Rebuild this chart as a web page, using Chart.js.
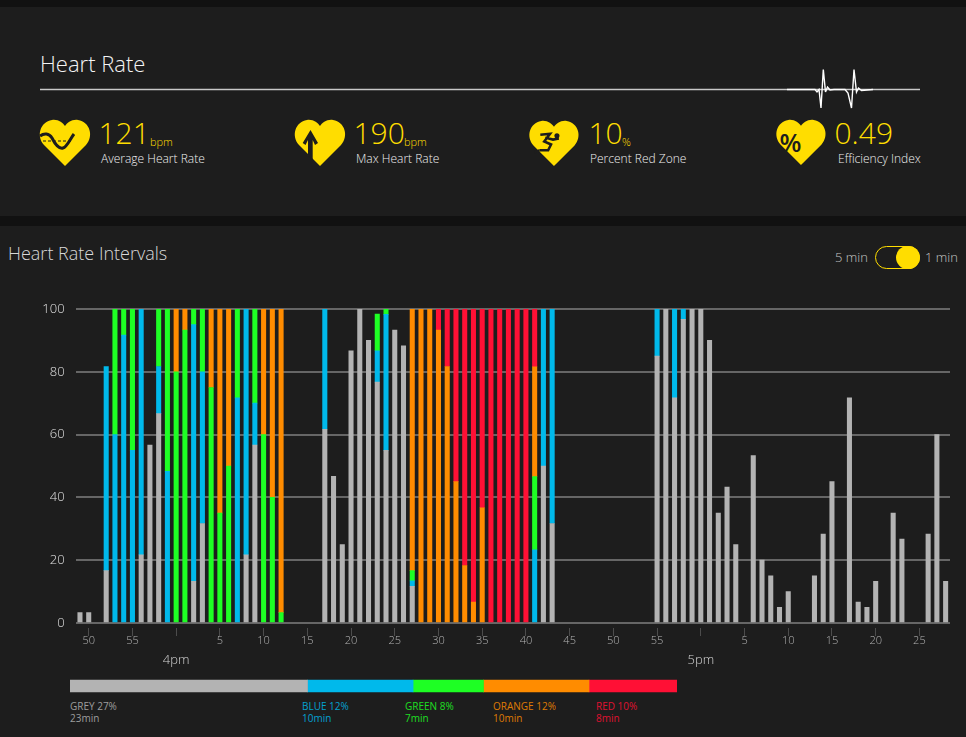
<!DOCTYPE html>
<html>
<head>
<meta charset="utf-8">
<title>Heart Rate</title>
<script src="https://cdn.jsdelivr.net/npm/chart.js@4"></script>
<style>
  html, body { margin: 0; padding: 0; background: #111; }
  body { width: 966px; height: 737px; position: relative; overflow: hidden; font-family: "Open Sans", sans-serif; font-weight: 300; }
  .panel { position: absolute; left: 0; width: 966px; background: #1d1d1d; }
  .t { position: absolute; white-space: nowrap; line-height: 1; }
  .big { color: #ffdd00; font-size: 30px; }
  .unit { color: #ffdd00; font-size: 11px; }
  .lbl { color: #f0f0f0; font-size: 12px; }
  svg { position: absolute; overflow: visible; }
  canvas { position: absolute; }
</style>
</head>
<body>
<div class="panel" style="top:7px;height:209px"></div>
<div class="panel" style="top:226px;height:511px"></div>

<div class="t" style="left:40px;top:52px;font-size:22px;color:#f4f4f4">Heart Rate</div>
<svg style="left:0;top:0" width="966" height="120">
  <line x1="40" y1="89.5" x2="920" y2="89.5" stroke="#c8c8c8" stroke-width="1.5"/>
  <polyline fill="none" stroke="#fff" stroke-width="1.4" points="787,89.5 815,89.5 817,92 819,89.5 821,108 823.3,69.5 825.5,92 827.5,87 830,90 834,89.5 845,89.5 848,93 851.5,108 854,69.5 856.5,92 858.5,88 861.5,90.5 873,89.5"/>
</svg>

<svg style="left:40px;top:120px" width="50" height="46" viewBox="0 0 50 46">
  <path id="heart" fill="#ffdd00" d="M25 46 L4 25 C-4 16 0 2 12 0 C18 -1 23 3 25 6 C27 3 32 -1 38 0 C50 2 54 16 46 25 Z"/>
  <path fill="none" stroke="#1d1d1d" stroke-width="3" d="M0 16 C4 13 9 13 12 18 C15 24 19 29 23 28 C27 27 30 19 34 14"/>
  <line x1="3" y1="21" x2="33" y2="21" stroke="#1d1d1d" stroke-width="1" stroke-dasharray="3 2"/>
</svg>
<div class="t big" style="left:98.5px;top:118px">121</div>
<div class="t unit" style="left:150px;top:136px">bpm</div>
<div class="t lbl" style="left:101px;top:153px">Average Heart Rate</div>

<svg style="left:295px;top:120px" width="50" height="46" viewBox="0 0 50 46">
  <use href="#heart"/>
  <path fill="#1d1d1d" d="M7.7 23 L15.5 10 L23 23 L20 25 L17.7 20 L17.7 40 L13 36 L13 20 L10.5 25 Z"/>
</svg>
<div class="t big" style="left:353.5px;top:118px">190</div>
<div class="t unit" style="left:404px;top:136px">bpm</div>
<div class="t lbl" style="left:356px;top:153px">Max Heart Rate</div>

<svg style="left:529px;top:121px" width="50" height="45" viewBox="0 0 50 46">
  <use href="#heart"/>
  <circle cx="28" cy="15" r="2.6" fill="#1d1d1d"/>
  <path fill="none" stroke="#1d1d1d" stroke-width="2.6" d="M11 14 L21 13 L15 21 L22 24 L19 30 L10 30 M16 17 L24 19 L30 18"/>
  <path fill="none" stroke="#1d1d1d" stroke-width="2.4" d="M10 30 L5 32"/>
</svg>
<div class="t big" style="left:588.5px;top:118px">10</div>
<div class="t unit" style="left:622px;top:136px">%</div>
<div class="t lbl" style="left:590px;top:153px">Percent Red Zone</div>

<svg style="left:776px;top:120px" width="50" height="45" viewBox="0 0 50 46">
  <use href="#heart"/>
  <text x="3" y="33" font-family="Open Sans" font-size="26" font-weight="600" fill="#1d1d1d">%</text>
</svg>
<div class="t big" style="left:834.5px;top:118px">0.49</div>
<div class="t lbl" style="left:838px;top:153px">Efficiency Index</div>

<div class="t" style="left:8px;top:244px;font-size:18px;color:#d8d8d8">Heart Rate Intervals</div>
<div class="t" style="left:835px;top:251px;font-size:13px;color:#c4c4c4">5 min</div>
<div class="t" style="left:925px;top:251px;font-size:13px;color:#c4c4c4">1 min</div>
<div style="position:absolute;left:875px;top:246px;width:43px;height:21px;border:1px solid #ffdd00;border-radius:12px"></div>
<div style="position:absolute;left:896px;top:246px;width:24px;height:23px;background:#ffdd00;border-radius:12px"></div>

<canvas id="intervals" width="966" height="390" style="left:0;top:290px"></canvas>
<canvas id="zones" width="607" height="20" style="left:70px;top:676px"></canvas>
<div id="zoneText"></div>

<script>
// minute of the hour for every bar, 3:49pm through 5:28pm
const minutes = [
  49, 50, 51, 52, 53, 54, 55, 56, 57, 58, 59,
  0, 1, 2, 3, 4, 5, 6, 7, 8, 9, 10, 11, 12, 13, 14, 15, 16, 17, 18, 19,
  20, 21, 22, 23, 24, 25, 26, 27, 28, 29, 30, 31, 32, 33, 34, 35, 36, 37, 38, 39,
  40, 41, 42, 43, 44, 45, 46, 47, 48, 49, 50, 51, 52, 53, 54, 55, 56, 57, 58, 59,
  0, 1, 2, 3, 4, 5, 6, 7, 8, 9, 10, 11, 12, 13, 14, 15, 16, 17, 18, 19,
  20, 21, 22, 23, 24, 25, 26, 27, 28
];
const hourNames = ['4pm', '5pm'];
const yTicks = [0, 20, 40, 60, 80, 100];

// share of each minute spent in each zone
const grey = [
  3.3, 3.3, 0, 16.7, 0, 0, 0, 21.7, 56.7, 66.7,
  0, 0, 0, 13.3, 31.7, 0, 0, 0, 0, 21.7,
  56.7, 0, 0, 0, 0, 0, 0, 0, 61.7, 46.7,
  25, 86.7, 100, 90, 76.7, 55, 93.3, 88.3, 11.7, 0,
  0, 0, 0, 0, 0, 0, 0, 0, 0, 0,
  0, 0, 0, 50, 31.7, 0, 0, 0, 0, 0,
  0, 0, 0, 0, 0, 0, 85, 100, 71.7, 96.7,
  100, 100, 90, 35, 43.3, 25, 0, 53.3, 20, 15,
  5, 10, 0, 0, 15, 28.3, 45, 0, 71.7, 6.7,
  5, 13.3, 0, 35, 26.7, 0, 0, 28.3, 60, 13.3
];
const blue = [
  0, 0, 0, 65, 60, 91.7, 55, 78.3, 0, 15,
  48.3, 0, 0, 81.7, 48.3, 0, 0, 0, 71.7, 78.3,
  13.3, 0, 0, 0, 0, 0, 0, 0, 38.3, 0,
  0, 0, 0, 0, 10, 43.3, 0, 0, 1.7, 0,
  0, 0, 0, 0, 0, 0, 0, 0, 0, 0,
  0, 0, 23.3, 50, 68.3, 0, 0, 0, 0, 0,
  0, 0, 0, 0, 0, 0, 15, 0, 28.3, 3.3,
  0, 0, 0, 0, 0, 0, 0, 0, 0, 0,
  0, 0, 0, 0, 0, 0, 0, 0, 0, 0,
  0, 0, 0, 0, 0, 0, 0, 0, 0, 0
];
const green = [
  0, 0, 0, 0, 40, 8.3, 45, 0, 0, 18.3,
  51.7, 80, 93.3, 5, 20, 75, 35, 50, 28.3, 0,
  30, 60, 40, 3.3, 0, 0, 0, 0, 0, 0,
  0, 0, 0, 0, 11.7, 1.7, 0, 0, 3.3, 0,
  0, 0, 0, 0, 0, 0, 0, 0, 0, 0,
  0, 0, 23.3, 0, 0, 0, 0, 0, 0, 0,
  0, 0, 0, 0, 0, 0, 0, 0, 0, 0,
  0, 0, 0, 0, 0, 0, 0, 0, 0, 0,
  0, 0, 0, 0, 0, 0, 0, 0, 0, 0,
  0, 0, 0, 0, 0, 0, 0, 0, 0, 0
];
const orange = [
  0, 0, 0, 0, 0, 0, 0, 0, 0, 0,
  0, 20, 6.7, 0, 0, 25, 65, 50, 0, 0,
  0, 40, 60, 96.7, 0, 0, 0, 0, 0, 0,
  0, 0, 0, 0, 0, 0, 0, 0, 83.3, 100,
  100, 93.3, 81.7, 45, 18.3, 6.7, 36.7, 0, 0, 0,
  0, 0, 35, 0, 0, 0, 0, 0, 0, 0,
  0, 0, 0, 0, 0, 0, 0, 0, 0, 0,
  0, 0, 0, 0, 0, 0, 0, 0, 0, 0,
  0, 0, 0, 0, 0, 0, 0, 0, 0, 0,
  0, 0, 0, 0, 0, 0, 0, 0, 0, 0
];
const red = [
  0, 0, 0, 0, 0, 0, 0, 0, 0, 0,
  0, 0, 0, 0, 0, 0, 0, 0, 0, 0,
  0, 0, 0, 0, 0, 0, 0, 0, 0, 0,
  0, 0, 0, 0, 0, 0, 0, 0, 0, 0,
  0, 6.7, 18.3, 55, 81.7, 93.3, 63.3, 100, 100, 100,
  100, 100, 18.3, 0, 0, 0, 0, 0, 0, 0,
  0, 0, 0, 0, 0, 0, 0, 0, 0, 0,
  0, 0, 0, 0, 0, 0, 0, 0, 0, 0,
  0, 0, 0, 0, 0, 0, 0, 0, 0, 0,
  0, 0, 0, 0, 0, 0, 0, 0, 0, 0
];

// totals for the strip under the chart
const zoneNames = ['GREY', 'BLUE', 'GREEN', 'ORANGE', 'RED'];
const zonePercents = [27, 12, 8, 12, 10];
const zoneMinutes = [23, 10, 7, 10, 8];

const zoneColors = ['#b3b3b3', '#00b9eb', '#1eff24', '#ff8c00', '#ff1035'];
const zoneTextX = [70, 302, 405, 493, 596];

const zoneSeries = [grey, blue, green, orange, red];

new Chart(document.getElementById('intervals'), {
  type: 'bar',
  data: {
    labels: minutes,
    datasets: zoneSeries.map((values, i) => ({
      label: zoneNames[i],
      // zero-height bars would leave specks along the baseline
      data: values.map(v => v === 0 ? null : v),
      backgroundColor: zoneColors[i],
      barThickness: 4.4,
      xAxisID: 'x'
    }))
  },
  options: {
    responsive: false,
    animation: false,
    layout: { padding: { top: 19, right: 16 } },
    plugins: { legend: { display: false }, tooltip: { enabled: false } },
    scales: {
      x: {
        stacked: true,
        border: { display: false },
        grid: {
          drawOnChartArea: false,
          offset: false,
          tickLength: 13,
          tickBorderDash: [0.01, 5, 8, 100],
          tickColor: ctx => minutes[ctx.index] % 5 === 0 ? '#4c4c4c' : 'transparent'
        },
        ticks: {
          autoSkip: false,
          maxRotation: 0,
          padding: -2,
          color: '#b4b4b4',
          font: { family: 'Open Sans', size: 11, weight: '300' },
          callback: (v, i) => minutes[i] % 5 === 0 && minutes[i] !== 0 ? String(minutes[i]) : ''
        },
        afterFit: scale => { scale.height = 30; }
      },
      hours: {
        axis: 'x',
        type: 'category',
        position: 'bottom',
        labels: minutes,
        offset: true,
        border: { display: false },
        grid: { display: false, drawTicks: false },
        ticks: {
          autoSkip: false,
          maxRotation: 0,
          padding: -1,
          color: '#d4d4d4',
          font: { family: 'Open Sans', size: 13, weight: '300' },
          callback: (v, i) => {
            if (minutes[i] !== 0) return '';
            return hourNames[minutes.slice(0, i).filter(m => m === 0).length];
          }
        },
        afterFit: scale => { scale.height = 27; }
      },
      y: {
        stacked: true,
        min: 0,
        max: 100,
        border: { display: false },
        grid: { color: '#666', lineWidth: 2, drawTicks: false },
        afterBuildTicks: scale => { scale.ticks = yTicks.map(value => ({ value })); },
        ticks: {
          padding: 11,
          color: '#e0e0e0',
          font: { family: 'Open Sans', size: 13, weight: '300' }
        },
        afterFit: scale => { scale.width = 75.6; }
      }
    }
  }
});

new Chart(document.getElementById('zones'), {
  type: 'bar',
  data: {
    labels: ['zones'],
    datasets: zonePercents.map((pct, i) => ({
      label: zoneNames[i],
      data: [pct],
      backgroundColor: zoneColors[i],
      barThickness: 12
    }))
  },
  options: {
    indexAxis: 'y',
    responsive: false,
    animation: false,
    plugins: { legend: { display: false }, tooltip: { enabled: false } },
    scales: {
      x: { stacked: true, display: false, min: 0, max: 69 },
      y: { stacked: true, display: false }
    }
  }
});

// zone captions below the strip
const zoneText = document.getElementById('zoneText');
zoneNames.forEach((name, i) => {
  const div = document.createElement('div');
  div.className = 't';
  div.style.cssText = 'left:' + zoneTextX[i] + 'px;top:700px;font-size:10px;line-height:12px;font-weight:400;opacity:.85;color:' + zoneColors[i];
  div.innerHTML = name + ' ' + zonePercents[i] + '%<br>' + zoneMinutes[i] + 'min';
  zoneText.appendChild(div);
});
</script>
</body>
</html>
